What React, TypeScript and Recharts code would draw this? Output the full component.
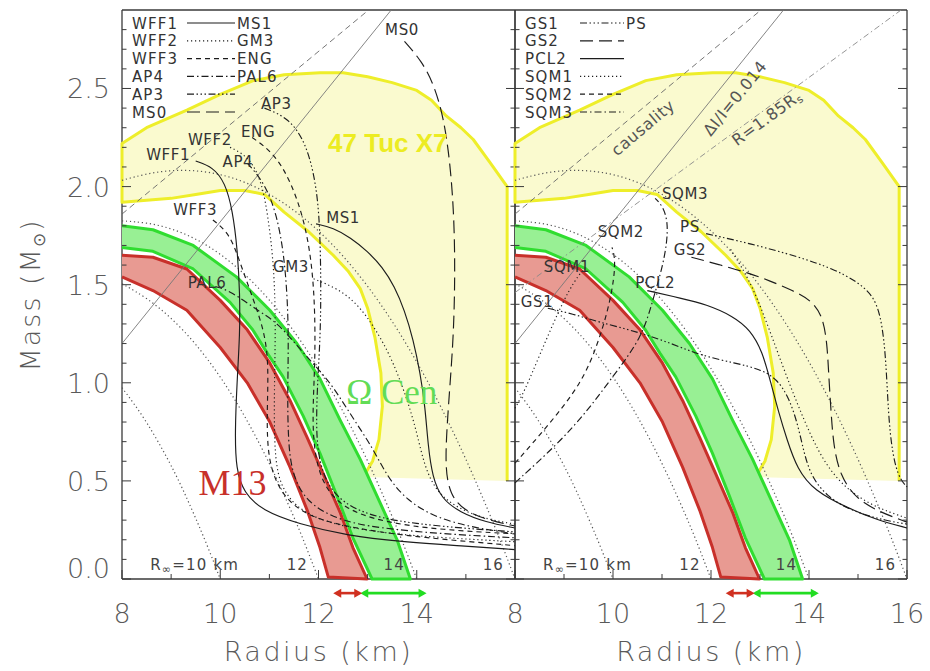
import React from 'react';
import { ScatterChart, Scatter, XAxis, YAxis, ReferenceLine, Label } from 'recharts';

// axis ticks
const radiusTicks = [8, 9, 10, 11, 12, 13, 14, 15, 16];
const radiusMajorTicks = [8, 10, 12, 14, 16];
const leftRadiusLabels = [8, 10, 12, 14];
const rightRadiusLabels = [8, 10, 12, 14, 16];
const massTicks = [0, 0.1, 0.2, 0.3, 0.4, 0.5, 0.6, 0.7, 0.8, 0.9, 1, 1.1, 1.2, 1.3, 1.4, 1.5, 1.6, 1.7, 1.8, 1.9, 2, 2.1, 2.2, 2.3, 2.4, 2.5, 2.6, 2.7, 2.8];
const massLabels = [0, 0.5, 1, 1.5, 2, 2.5];

// observational constraints, [radius km, mass Msun]
const tuc47Region = [
  [15.84, 0.5], [15.84, 2.0], [15.5, 2.12], [15.15, 2.24], [14.9, 2.3], [14.6, 2.36], [14.3, 2.44], [14.0, 2.49],
  [13.5, 2.53], [13.0, 2.56], [12.5, 2.58], [12.03, 2.58], [11.3, 2.57], [10.67, 2.54], [10.0, 2.47], [9.32, 2.39],
  [8.5, 2.3], [8.0, 2.22], [8.0, 1.92], [8.5, 1.93], [9.0, 1.94], [9.5, 1.96], [10.0, 1.98], [10.5, 1.98],
  [10.9, 1.96], [11.3, 1.87], [11.8, 1.77], [12.3, 1.65], [12.6, 1.57], [12.85, 1.48], [13.0, 1.38], [13.15, 1.23],
  [13.27, 1.05], [13.3, 0.88], [13.23, 0.71], [13.1, 0.6], [12.91, 0.52],
];
const m13Band = [
  [8, 1.65], [8.63, 1.64], [9.32, 1.58], [10.0, 1.42], [10.55, 1.27], [11.01, 1.1], [11.42, 0.91], [11.77, 0.72],
  [12.09, 0.54], [12.44, 0.34], [12.7, 0.16], [12.99, 0.0], [12.2, 0.01], [12.03, 0.16], [11.77, 0.35], [11.42, 0.57],
  [11.01, 0.8], [10.55, 1.0], [10.0, 1.18], [9.32, 1.37], [8.63, 1.47], [8, 1.54],
];
const omegaCenBand = [
  [8, 1.8], [8.63, 1.78], [9.45, 1.7], [10.33, 1.54], [11.01, 1.37], [11.56, 1.2], [12.03, 1.02], [12.44, 0.81],
  [12.85, 0.61], [13.25, 0.39], [13.6, 0.2], [13.87, 0.0], [13.09, 0.0], [12.7, 0.21], [12.38, 0.42], [12.03, 0.64],
  [11.69, 0.83], [11.28, 1.03], [10.96, 1.15], [10.66, 1.27], [10.2, 1.41], [9.45, 1.58], [8.63, 1.67], [8, 1.69],
];
const m13RadiusRange = [12.3, 12.89];
const omegaCenRadiusRange = [12.85, 14.2];

// curves of constant R_infinity
const rInf10 = [[8, 0.975], [8.25, 0.892], [8.5, 0.8], [8.75, 0.694], [9, 0.58], [9.25, 0.452], [9.5, 0.31], [9.75, 0.163], [10, 0]];
const rInf12 = [[8, 1.505], [8.5, 1.434], [9, 1.333], [9.5, 1.201], [10, 1.035], [10.5, 0.833], [11, 0.595], [11.5, 0.318], [11.75, 0.164], [12, 0]];
const rInf14 = [[8, 1.825], [8.5, 1.817], [9, 1.788], [9.5, 1.736], [10, 1.659], [10.5, 1.556], [11, 1.426], [11.5, 1.267], [12, 1.078], [12.5, 0.858], [13, 0.607], [13.5, 0.321], [13.75, 0.165], [14, 0]];
const rInf16 = [[8, 2.032], [8.5, 2.066], [9, 2.084], [9.5, 2.083], [10, 2.064], [10.5, 2.025], [11, 1.964], [11.5, 1.882], [12, 1.778], [12.5, 1.649], [13, 1.496], [13.5, 1.317], [14, 1.111], [14.5, 0.877], [15, 0.615], [15.5, 0.323], [15.75, 0.166], [16, 0]];

// limit lines
const causalityLine = [[8, 1.86], [13.02, 2.9]];
const inertiaLine = [[8, 1.2], [13.48, 2.9]];
const r185Line = [[8, 1.46], [15.88, 2.9]];

// EOS, left panel
const wff1 = [[9.5, 2.13], [9.85, 2.1], [10.1, 2.02], [10.25, 1.88], [10.35, 1.68], [10.4, 1.45], [10.4, 1.25], [10.34, 1.0], [10.3, 0.75], [10.32, 0.56], [10.48, 0.44], [10.85, 0.35], [11.6, 0.28], [12.6, 0.22], [13.7, 0.19], [14.8, 0.17], [16, 0.15]];
const ms1 = [[11.95, 1.81], [12.3, 1.79], [12.65, 1.74], [13.0, 1.67], [13.3, 1.59], [13.55, 1.49], [13.75, 1.37], [13.93, 1.22], [14.07, 1.05], [14.17, 0.88], [14.23, 0.68], [14.32, 0.52], [14.5, 0.41], [14.88, 0.34], [15.4, 0.29], [16, 0.26]];
const ms0 = [[13.75, 2.74], [14.1, 2.64], [14.35, 2.52], [14.55, 2.35], [14.68, 2.12], [14.76, 1.85], [14.78, 1.55], [14.75, 1.25], [14.68, 1.0], [14.61, 0.76], [14.58, 0.56], [14.68, 0.43], [14.95, 0.35], [15.45, 0.3], [16, 0.27]];
const wff2 = [[10.2, 2.2], [10.6, 2.15], [10.85, 2.02], [10.97, 1.85], [11.07, 1.65], [11.12, 1.42], [11.12, 1.2], [11.1, 0.95], [11.1, 0.72], [11.15, 0.53], [11.38, 0.41], [11.8, 0.32], [12.6, 0.26], [13.8, 0.22], [16, 0.19]];
const gm3 = [[11.9, 1.53], [12.4, 1.48], [12.8, 1.4], [13.15, 1.28], [13.5, 1.12], [13.8, 0.92], [14.0, 0.75], [14.15, 0.58], [14.4, 0.44], [14.9, 0.35], [15.5, 0.3], [16, 0.28]];
const wff3 = [[9.85, 1.83], [10.2, 1.76], [10.42, 1.6], [10.68, 1.42], [10.9, 1.26], [10.98, 1.1], [10.96, 0.9], [10.95, 0.72], [11.02, 0.56], [11.3, 0.41], [11.8, 0.32], [12.5, 0.27], [13.7, 0.22], [16, 0.17]];
const eng = [[10.65, 2.25], [11.1, 2.17], [11.45, 2.02], [11.72, 1.82], [11.87, 1.6], [11.93, 1.36], [11.93, 1.1], [11.88, 0.86], [11.9, 0.66], [12.08, 0.48], [12.5, 0.36], [13.3, 0.29], [14.5, 0.25], [16, 0.23]];
const ap4 = [[10.55, 2.12], [10.9, 2.02], [11.15, 1.86], [11.3, 1.65], [11.37, 1.42], [11.39, 1.2], [11.37, 0.95], [11.38, 0.72], [11.45, 0.54], [11.75, 0.39], [12.4, 0.3], [13.2, 0.26], [14.5, 0.23], [16, 0.21]];
const pal6 = [[9.9, 1.49], [10.2, 1.47], [10.81, 1.36], [11.15, 1.31], [11.63, 1.17], [12.03, 1.06], [12.3, 0.98], [12.7, 0.82], [13.1, 0.67], [13.4, 0.52], [13.8, 0.4], [14.4, 0.31], [15.2, 0.26], [16, 0.23]];
const ap3 = [[10.9, 2.4], [11.4, 2.35], [11.75, 2.22], [11.95, 2.02], [12.03, 1.8], [12.05, 1.5], [12.04, 1.25], [11.98, 1.0], [11.95, 0.78], [12.0, 0.6], [12.25, 0.44], [12.8, 0.34], [13.8, 0.28], [16, 0.24]];

// EOS, right panel
const gs1 = [[8.67, 1.38], [9.2, 1.35], [9.7, 1.31], [10.5, 1.26], [11.2, 1.2], [11.78, 1.14], [12.5, 1.1], [13.0, 1.07], [13.35, 1.02], [13.6, 0.92], [13.78, 0.78], [13.9, 0.64], [14.05, 0.52], [14.37, 0.42], [14.84, 0.35], [15.5, 0.3], [16, 0.28]];
const ps = [[11.9, 1.76], [12.8, 1.71], [13.82, 1.64], [14.5, 1.58], [14.95, 1.52], [15.3, 1.45], [15.47, 1.34], [15.56, 1.15], [15.6, 0.95], [15.65, 0.74], [15.75, 0.58], [15.88, 0.5], [16, 0.47]];
const gs2 = [[11.6, 1.64], [12.2, 1.6], [12.76, 1.56], [13.2, 1.52], [13.67, 1.47], [14.05, 1.42], [14.28, 1.34], [14.37, 1.2], [14.4, 1.05], [14.45, 0.85], [14.5, 0.68], [14.63, 0.53], [14.95, 0.41], [15.45, 0.34], [16, 0.29]];
const pcl2 = [[10.7, 1.47], [11.4, 1.43], [11.9, 1.4], [12.45, 1.34], [12.8, 1.27], [13.05, 1.16], [13.22, 1.0], [13.38, 0.85], [13.55, 0.71], [13.76, 0.56], [14.1, 0.45], [14.8, 0.36], [15.4, 0.3], [16, 0.26]];
const sqm1 = [[8.0, 0.87], [8.2, 0.96], [8.5, 1.14], [8.88, 1.36], [9.1, 1.47], [9.3, 1.55], [9.42, 1.58]];
const sqm2 = [[8.0, 0.59], [8.67, 0.78], [9.37, 1.0], [9.69, 1.2], [9.9, 1.37], [10.03, 1.54], [10.04, 1.64], [9.98, 1.69]];
const sqm3 = [[8.0, 0.49], [8.88, 0.69], [9.49, 0.86], [10.02, 1.04], [10.59, 1.23], [10.8, 1.41], [11.0, 1.58], [11.1, 1.71], [11.12, 1.82], [11.02, 1.9], [10.86, 1.94]];
const rightDotted = [[12.4, 1.68], [12.8, 1.52], [13.15, 1.3], [13.47, 1.08], [13.75, 0.9], [14.02, 0.74], [14.3, 0.6], [14.7, 0.47], [15.3, 0.37], [16, 0.31]];

// text labels
const leftEosLabels = [
  { r: 8.94, m: 2.16, text: 'WFF1' }, { r: 9.79, m: 2.235, text: 'WFF2' }, { r: 10.77, m: 2.28, text: 'ENG' },
  { r: 10.36, m: 2.125, text: 'AP4' }, { r: 11.14, m: 2.42, text: 'AP3' }, { r: 13.7, m: 2.8, text: 'MS0' },
  { r: 9.49, m: 1.88, text: 'WFF3' }, { r: 12.5, m: 1.84, text: 'MS1' }, { r: 11.44, m: 1.59, text: 'GM3' },
  { r: 9.73, m: 1.51, text: 'PAL6' },
];
const rightEosLabels = [
  { r: 11.47, m: 1.96, text: 'SQM3' }, { r: 10.16, m: 1.77, text: 'SQM2' }, { r: 11.57, m: 1.795, text: 'PS' },
  { r: 11.57, m: 1.675, text: 'GS2' }, { r: 10.86, m: 1.51, text: 'PCL2' }, { r: 9.06, m: 1.59, text: 'SQM1' },
  { r: 8.45, m: 1.41, text: 'GS1' },
];
const rInfLabels = [
  { r: 9.48, m: 0.07, text: 'R∞=10 km' }, { r: 11.57, m: 0.07, text: '12' },
  { r: 13.54, m: 0.07, text: '14' }, { r: 15.56, m: 0.07, text: '16' },
];
const limitLabels = [
  { r: 10.61, m: 2.3, text: 'causality' }, { r: 12.49, m: 2.45, text: 'ΔI/I=0.014' }, { r: 13.14, m: 2.35, text: 'R=1.85Rs' },
];
const sourceLabels = [
  { r: 10.25, m: 0.49, text: 'M13' }, { r: 13.49, m: 0.95, text: 'Ω Cen' }, { r: 13.41, m: 2.22, text: '47 Tuc X7' },
];
const leftLegendRows = [
  ['WFF1', 'solid', 'MS1'], ['WFF2', 'dot', 'GM3'], ['WFF3', 'dash', 'ENG'],
  ['AP4', 'dashDot', 'PAL6'], ['AP3', 'dash3Dot', ''], ['MS0', 'longDash', ''],
];
const rightLegendRows = [
  ['GS1', 'dash3Dot', 'PS'], ['GS2', 'longDash', ''], ['PCL2', 'solid', ''],
  ['SQM1', 'dot', ''], ['SQM2', 'dash', ''], ['SQM3', 'dashDot', ''],
];

const FONT = "'DejaVu Sans', sans-serif";
const AXIS = '#3a3a3a';
const TICK_TEXT = '#5a5a5a';
const INK = '#1c1c1c';

const DASH: Record<string, string | undefined> = {
  solid: undefined,
  dot: '1.2 2.8',
  dash: '5 4',
  dashDot: '7 3 1.5 3',
  dash3Dot: '7 2.5 1.5 2.5 1.5 2.5 1.5 2.5',
  longDash: '13 6',
};

const leftCurves = [
  { data: wff1, dash: 'solid' }, { data: ms1, dash: 'solid' }, { data: wff2, dash: 'dot' }, { data: gm3, dash: 'dot' },
  { data: wff3, dash: 'dash' }, { data: eng, dash: 'dash' }, { data: ap4, dash: 'dashDot' }, { data: pal6, dash: 'dashDot' },
  { data: ap3, dash: 'dash3Dot' }, { data: ms0, dash: 'longDash' },
];
const rightCurves = [
  { data: gs1, dash: 'dash3Dot' }, { data: ps, dash: 'dash3Dot' }, { data: gs2, dash: 'longDash' }, { data: pcl2, dash: 'solid' },
  { data: sqm1, dash: 'dot' }, { data: sqm2, dash: 'dash' }, { data: sqm3, dash: 'dashDot' }, { data: rightDotted, dash: 'dot' },
];

const sourceStyle: Record<string, any> = {
  M13: { fontFamily: "'Liberation Serif', serif", fontSize: 36, fill: '#c8302a' },
  'Ω Cen': { fontFamily: "'Liberation Serif', serif", fontSize: 35, fill: '#62dc55' },
  '47 Tuc X7': { fontFamily: "'Liberation Sans', sans-serif", fontSize: 26, fontWeight: 700, fill: '#ecec22' },
};
const limitAngle: Record<string, number> = { causality: -40, 'ΔI/I=0.014': -51, 'R=1.85Rs': -36 };

const toPts = (a: number[][]) => a.map(([r, m]) => ({ r, m }));
const noDot = () => <g />;

function curve(key: string, data: number[][], stroke: string, width: number, dash?: string, joint = 'basis') {
  return (
    <Scatter
      key={key}
      data={toPts(data)}
      line={{ stroke, strokeWidth: width, strokeDasharray: dash, fill: 'none' }}
      lineJointType={joint as any}
      shape={noDot}
      isAnimationActive={false}
    />
  );
}

function region(key: string, data: number[][], stroke: string, fill: string) {
  return (
    <Scatter
      key={key}
      data={toPts(data)}
      line={{ stroke, strokeWidth: 3, fill, strokeLinejoin: 'round' }}
      lineJointType="linear"
      shape={noDot}
      isAnimationActive={false}
    />
  );
}

const renderText = (text: string) => {
  if (text.startsWith('R∞')) {
    return (
      <>
        R<tspan fontSize={11} dy={4}>∞</tspan>
        <tspan dy={-4}>{text.slice(2)}</tspan>
      </>
    );
  }
  if (text === 'R=1.85Rs') {
    return (
      <>
        R=1.85R<tspan fontSize={11} dy={4}>s</tspan>
      </>
    );
  }
  return text;
};

const textShape = (style: (t: string) => any) => (p: any) => {
  const t = p.payload.text;
  const s = style(t);
  const { angle, ...rest } = s;
  return (
    <text
      x={p.cx}
      y={p.cy}
      textAnchor="middle"
      dominantBaseline="central"
      transform={angle ? `rotate(${angle} ${p.cx} ${p.cy})` : undefined}
      {...rest}
    >
      {renderText(t)}
    </text>
  );
};

const smallText = () => ({ fontFamily: FONT, fontSize: 15, letterSpacing: 0.6, fill: '#333' });

const makeBottomTick = (labels: number[]) => (p: any) => {
  const v = p.payload.value;
  const len = radiusMajorTicks.includes(v) ? 9 : 5;
  return (
    <g>
      <line x1={p.x} x2={p.x} y1={p.y} y2={p.y - len} stroke={AXIS} strokeWidth={1} />
      {labels.includes(v) && (
        <text x={p.x} y={p.y + 44} textAnchor="middle" fontSize={27} fill={TICK_TEXT} fontFamily={FONT} fontWeight={300}>
          {v}
        </text>
      )}
    </g>
  );
};
const topTick = (p: any) => {
  const len = radiusMajorTicks.includes(p.payload.value) ? 9 : 5;
  return <line x1={p.x} x2={p.x} y1={p.y} y2={p.y + len} stroke={AXIS} strokeWidth={1} />;
};
const makeLeftTick = (withLabels: boolean) => (p: any) => {
  const v = p.payload.value;
  const major = massLabels.includes(v);
  return (
    <g>
      <line x1={p.x} x2={p.x + (major ? 9 : 4.5)} y1={p.y} y2={p.y} stroke={AXIS} strokeWidth={1} />
      {withLabels && major && (
        <text x={p.x - 12} y={p.y + 10 - (v === 0 ? 11 : 0)} textAnchor="end" fontSize={27} fill={TICK_TEXT} fontFamily={FONT} fontWeight={300}>
          {v.toFixed(1)}
        </text>
      )}
    </g>
  );
};
const rightTick = (p: any) => {
  const major = massLabels.includes(p.payload.value);
  return <line x1={p.x} x2={p.x - (major ? 9 : 4.5)} y1={p.y} y2={p.y} stroke={AXIS} strokeWidth={1} />;
};

const arrowShape = (color: string) => (p: any) => {
  const { x1, y1, x2 } = p;
  const h = 8;
  const w = 4.5;
  return (
    <g>
      <line x1={x1 + 3} y1={y1} x2={x2 - 3} y2={y1} stroke={color} strokeWidth={2.6} />
      <polygon points={`${x1},${y1} ${x1 + h},${y1 - w} ${x1 + h},${y1 + w}`} fill={color} />
      <polygon points={`${x2},${y1} ${x2 - h},${y1 - w} ${x2 - h},${y1 + w}`} fill={color} />
    </g>
  );
};

const ARROW_M = -0.072;
const YELLOW = '#eeee2a';
const YELLOW_FILL = '#fafacf';

function Panel({ side }: { side: 'left' | 'right' }) {
  const isLeft = side === 'left';
  const axisLine = { stroke: AXIS, strokeWidth: 1.3 };
  return (
    <ScatterChart
      width={isLeft ? 520 : 430}
      height={671}
      margin={isLeft ? { top: 9, right: 4, bottom: 0, left: 0 } : { top: 9, right: 22, bottom: 0, left: 0 }}
    >
      <XAxis
        type="number"
        dataKey="r"
        domain={[8, 16]}
        ticks={radiusTicks}
        interval={0}
        height={92}
        tickSize={0}
        tickMargin={0}
        tickLine={false}
        axisLine={axisLine}
        tick={makeBottomTick(isLeft ? leftRadiusLabels : rightRadiusLabels)}
      >
        <Label value="Radius (km)" position="insideBottom" offset={10} fontSize={27} fill={TICK_TEXT} fontFamily={FONT} fontWeight={300} letterSpacing={2.5} />
      </XAxis>
      <XAxis
        xAxisId="top"
        orientation="top"
        type="number"
        domain={[8, 16]}
        allowDataOverflow
        ticks={radiusTicks}
        interval={0}
        height={1}
        tickSize={0}
        tickMargin={0}
        tickLine={false}
        axisLine={axisLine}
        tick={topTick}
      />
      <YAxis
        type="number"
        dataKey="m"
        domain={[0, 2.9]}
        ticks={massTicks}
        interval={0}
        width={isLeft ? 122 : 15}
        tickSize={0}
        tickMargin={0}
        tickLine={false}
        axisLine={axisLine}
        tick={makeLeftTick(isLeft)}
      />
      <YAxis
        yAxisId="right"
        orientation="right"
        type="number"
        domain={[0, 2.9]}
        allowDataOverflow
        ticks={massTicks}
        interval={0}
        width={1}
        tickSize={0}
        tickMargin={0}
        tickLine={false}
        axisLine={axisLine}
        tick={rightTick}
      />

      {region('tuc', tuc47Region, YELLOW, YELLOW_FILL)}
      {region('omega', omegaCenBand, '#30dd30', '#98f094')}
      {region('m13', m13Band, '#c8302a', '#e89a92')}

      {curve('rinf10', rInf10, '#555', 1.2, DASH.dot)}
      {curve('rinf12', rInf12, '#555', 1.2, DASH.dot)}
      {curve('rinf14', rInf14, '#555', 1.2, DASH.dot)}
      {curve('rinf16', rInf16, '#555', 1.2, DASH.dot)}

      {curve('caus', causalityLine, '#666', 0.9, '6 4', 'linear')}
      {curve('inertia', inertiaLine, '#777', 0.9, undefined, 'linear')}
      {!isLeft && curve('r185', r185Line, '#888', 0.9, '6 3 1.5 3', 'linear')}

      {(isLeft ? leftCurves : rightCurves).map((c, i) => curve(`eos${i}`, c.data, INK, 1.15, DASH[c.dash]))}

      <Scatter data={rInfLabels} shape={textShape(() => ({ ...smallText(), fill: '#444', letterSpacing: 1.2 }))} isAnimationActive={false} />
      <Scatter data={isLeft ? leftEosLabels : rightEosLabels} shape={textShape(smallText)} isAnimationActive={false} />
      {isLeft && <Scatter data={sourceLabels} shape={textShape((t) => sourceStyle[t])} isAnimationActive={false} />}
      {!isLeft && (
        <Scatter data={limitLabels} shape={textShape((t) => ({ ...smallText(), fontSize: 16, fill: '#555', angle: limitAngle[t] }))} isAnimationActive={false} />
      )}

      <ReferenceLine
        segment={[{ x: omegaCenRadiusRange[0], y: ARROW_M }, { x: omegaCenRadiusRange[1], y: ARROW_M }]}
        ifOverflow="visible"
        shape={arrowShape('#22dd22')}
      />
      <ReferenceLine
        segment={[{ x: m13RadiusRange[0], y: ARROW_M }, { x: m13RadiusRange[1], y: ARROW_M }]}
        ifOverflow="visible"
        shape={arrowShape('#d03020')}
      />
    </ScatterChart>
  );
}

function LegendBlock({ rows, x0, lineX0, lineX1, rightX }: any) {
  return (
    <g fontFamily={FONT} fontSize={15} letterSpacing={1.1} fill="#333">
      {rows.map((row: string[], i: number) => {
        const y = 23 + i * 17.8;
        return (
          <g key={row[0]}>
            <text x={x0} y={y + 5.5}>{row[0]}</text>
            <line x1={lineX0} x2={lineX1} y1={y} y2={y} stroke={INK} strokeWidth={1.2} strokeDasharray={DASH[row[1]]} />
            {row[2] && <text x={rightX} y={y + 5.5}>{row[2]}</text>}
          </g>
        );
      })}
    </g>
  );
}

export default function App() {
  return (
    <div style={{ position: 'absolute', left: 0, top: 0, width: 930, height: 671, background: '#fff' }}>
      <div style={{ position: 'absolute', left: 0, top: 0 }}>
        <Panel side="left" />
      </div>
      <div style={{ position: 'absolute', left: 500, top: 0 }}>
        <Panel side="right" />
      </div>
      <svg width={930} height={671} style={{ position: 'absolute', left: 0, top: 0, pointerEvents: 'none' }}>
        <text transform="rotate(-90)" x={-295} y={40} textAnchor="middle" fontSize={27} fill={TICK_TEXT} fontFamily={FONT} fontWeight={300} letterSpacing={2}>
          Mass (M<tspan fontSize={17} dy={5}>⊙</tspan>
          <tspan dy={-5}>)</tspan>
        </text>
        <LegendBlock rows={leftLegendRows} x0={132} lineX0={187} lineX1={235} rightX={237} />
        <LegendBlock rows={rightLegendRows} x0={525} lineX0={580} lineX1={624} rightX={626} />
      </svg>
    </div>
  );
}
